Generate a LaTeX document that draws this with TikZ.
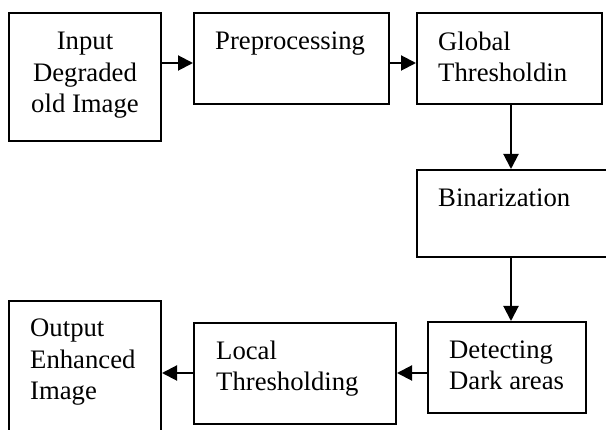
\documentclass[tikz,border=0pt]{standalone}
\usepackage{fontspec}
\setmainfont{Liberation Serif}
\usetikzlibrary{arrows.meta,calc}
\begin{document}
\begin{tikzpicture}[x=1pt,y=-1pt,
  box/.style={draw,line width=2pt,rectangle,inner sep=0pt},
  txt/.style={font=\fontsize{26.7}{31.5}\selectfont,inner sep=0pt,anchor=base west,align=left},
  arr/.style={line width=2pt,-{Triangle[length=15pt,width=15pt]}}]
\clip (0,0) rectangle (606,430);
% boxes
\node[box,minimum width=152pt,minimum height=128pt] (b1) at (85,77) {};
\node[box,minimum width=195pt,minimum height=91pt] (b2) at (291.5,58.5) {};
\node[box,minimum width=185pt,minimum height=91pt] (b3) at (509.5,58.5) {};
\node[box,minimum width=195pt,minimum height=87pt] (b4) at (514.5,213.5) {};
\node[box,minimum width=158pt,minimum height=91pt] (b5) at (507,367.5) {};
\node[box,minimum width=202pt,minimum height=101pt] (b6) at (295,373.5) {};
\node[box,minimum width=152pt,minimum height=134pt] (b7) at (85,368) {};
% texts (anchor base = baseline of the last line)
\node[txt,anchor=base,align=center] (t1) at (85,113) {Input\\Degraded\\old Image};
\node[txt] (t2) at (215,50) {Preprocessing};
\node[txt] (t3) at (438,82) {Global\\Thresholdin};
\node[txt] (t4) at (438,207) {Binarization};
\node[txt] (t5) at (449,390) {Detecting\\Dark areas};
\node[txt] (t6) at (216,391) {Local\\Thresholding};
\node[txt] (t7) at (30,400) {Output\\Enhanced\\Image};
% arrows
\draw[arr] (b1.east |- 0,63) -- (b2.west |- 0,63);
\draw[arr] (b2.east |- 0,63) -- (b3.west |- 0,63);
\draw[arr] (b3.south -| 511,0) -- (b4.north -| 511,0);
\draw[arr] (b4.south -| 511,0) -- (b5.north -| 511,0);
\draw[arr] (b5.west |- 0,373) -- (b6.east |- 0,373);
\draw[arr] (b6.west |- 0,373) -- (b7.east |- 0,373);
\end{tikzpicture}
\end{document}
